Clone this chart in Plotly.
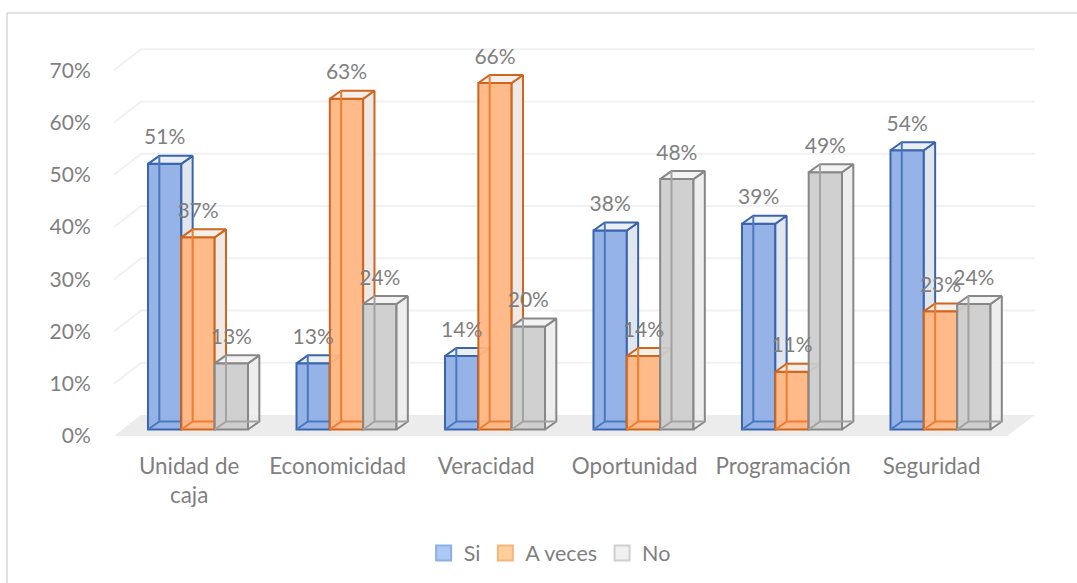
import plotly.graph_objects as go

categories = ["Unidad de<br>caja", "Economicidad", "Veracidad", "Oportunidad", "Programación", "Seguridad"]
si = [50.6, 12.6, 14, 37.9, 39.2, 53.2]
a_veces = [36.6, 63, 66, 14, 11, 22.5]
no = [12.6, 23.9, 19.6, 47.7, 49, 23.9]
si_labels = ["51%", "13%", "14%", "38%", "39%", "54%"]
a_veces_labels = ["37%", "63%", "66%", "14%", "11%", "23%"]
no_labels = ["13%", "24%", "20%", "48%", "49%", "24%"]
y_ticks = [0, 10, 20, 30, 40, 50, 60, 70]
y_tick_labels = ["0%", "10%", "20%", "30%", "40%", "50%", "60%", "70%"]

series = [
    dict(name="Si", v=si, t=si_labels, fill="rgba(143,174,230,0.94)", edge="#3A64AC", inner="#4A78BE",
         side="rgba(222,227,236,0.9)", top="rgba(232,236,244,0.9)", leg="#ABC8F7", legl="#8FAEE2"),
    dict(name="A veces", v=a_veces, t=a_veces_labels, fill="rgba(255,182,130,0.94)", edge="#CE661E", inner="#EE7E32",
         side="rgba(240,231,226,0.9)", top="rgba(244,237,232,0.9)", leg="#FFD09C", legl="#F9B47C"),
    dict(name="No", v=no, t=no_labels, fill="rgba(205,205,205,0.94)", edge="#878787", inner="#A3A3A3",
         side="rgba(236,236,236,0.9)", top="rgba(242,242,242,0.9)", leg="#F0F0F0", legl="#CFCFCF"),
]

W, H = 1077, 583
ML, MR, MT, MB = 114, 42, 18, 147
TEXT = "#7F7F7F"
FONT = "Lato"

X_RANGE = [-0.5657, 5.6364]
Y_WALL = [0, 80]
Y_BAR = [-1.238, 78.38]
BAR_W = 0.2245
DX, DY = 0.0762, 1.52
LABEL_UP = 4.7
WALL_UP = 4.0
X_BACK_L = -0.384
X_FRONT_R = 5.448
CAT_SHIFT = -0.06

fig = go.Figure()

fig.add_trace(go.Scatter(
    x=[X_RANGE[0], X_BACK_L, X_RANGE[1], X_FRONT_R, X_RANGE[0]],
    y=[0, WALL_UP, WALL_UP, 0, 0],
    mode="lines", fill="toself", fillcolor="#ECECEC", line=dict(color="#ECECEC", width=0),
    hoverinfo="skip", showlegend=False))
gx, gy = [], []
for t in y_ticks[1:]:
    gx += [X_RANGE[0], X_BACK_L, X_RANGE[1], None]
    gy += [t, t + WALL_UP, t + WALL_UP, None]
fig.add_trace(go.Scatter(x=gx, y=gy, mode="lines", line=dict(color="#F1F1F1", width=2),
                         hoverinfo="skip", showlegend=False))

offs = [-1.5 * BAR_W, -0.5 * BAR_W, 0.5 * BAR_W]
for s, sr in enumerate(series):
    xa = f"x{s + 2}"
    ya = f"y{s + 2}"
    fig.add_trace(go.Bar(
        x=list(range(len(categories))), y=sr["v"], width=BAR_W, offset=offs[s],
        marker=dict(color=sr["fill"], line=dict(color=sr["edge"], width=2)),
        xaxis=xa, yaxis=ya, showlegend=False, hoverinfo="skip"))
    ix, iy, sx, sy, tx, ty = [], [], [], [], [], []
    for i, v in enumerate(sr["v"]):
        L = i + offs[s]
        R = L + BAR_W
        ix += [L, L + DX, L + DX, None, L + DX, R + DX, None]
        iy += [0, DY, v + DY, None, DY, DY, None]
        sx += [R, R + DX, R + DX, R, R, None]
        sy += [0, DY, v + DY, v, 0, None]
        tx += [L, L + DX, R + DX, R, L, None]
        ty += [v, v + DY, v + DY, v, v, None]
    fig.add_trace(go.Scatter(x=sx, y=sy, mode="lines", fill="toself", fillcolor=sr["side"],
                             line=dict(color=sr["edge"], width=2), xaxis=xa, yaxis=ya,
                             hoverinfo="skip", showlegend=False))
    fig.add_trace(go.Scatter(x=tx, y=ty, mode="lines", fill="toself", fillcolor=sr["top"],
                             line=dict(color=sr["edge"], width=2), xaxis=xa, yaxis=ya,
                             hoverinfo="skip", showlegend=False))
    fig.add_trace(go.Scatter(x=ix, y=iy, mode="lines", line=dict(color=sr["inner"], width=2),
                             xaxis=xa, yaxis=ya, hoverinfo="skip", showlegend=False))

for s, sr in enumerate(series):
    fig.add_trace(go.Scatter(
        x=[i + offs[s] + BAR_W / 2 for i in range(len(categories))],
        y=[v + LABEL_UP for v in sr["v"]], text=sr["t"], mode="text",
        textposition="middle center", textfont=dict(family=FONT, size=21, color=TEXT),
        xaxis="x4", yaxis="y4", hoverinfo="skip", showlegend=False))

for sr in series:
    fig.add_trace(go.Scatter(
        x=[None], y=[None], mode="markers", name=sr["name"],
        marker=dict(symbol="square", size=15, color=sr["leg"], line=dict(color=sr["legl"], width=2))))

hidden = dict(visible=False, fixedrange=True)
layout = dict(
    width=W, height=H, autosize=False, margin=dict(l=ML, r=MR, t=MT, b=MB, pad=0, autoexpand=False),
    paper_bgcolor="white", plot_bgcolor="rgba(0,0,0,0)", font=dict(family=FONT, size=21, color=TEXT),
    xaxis=dict(range=X_RANGE, tickmode="array", tickvals=[i + CAT_SHIFT for i in range(len(categories))],
               ticktext=categories,
               showgrid=False, zeroline=False, showline=False, ticks="outside", ticklen=10, tickcolor="rgba(0,0,0,0)",
               tickfont=dict(family=FONT, size=22.4, color=TEXT), fixedrange=True),
    yaxis=dict(range=Y_WALL, tickmode="array", tickvals=y_ticks, ticktext=y_tick_labels,
               showgrid=False, zeroline=False, showline=False, ticks="outside", ticklen=18, tickcolor="rgba(0,0,0,0)",
               tickfont=dict(family=FONT, size=21, color=TEXT), fixedrange=True),
    legend=dict(orientation="h", x=0.473, xanchor="center", y=-0.28, yanchor="middle",
                font=dict(family=FONT, size=21.5, color=TEXT), itemsizing="trace", traceorder="normal",
                bgcolor="rgba(0,0,0,0)"),
    shapes=[
        dict(type="line", xref="paper", yref="paper",
             x0=(7 - ML) / (W - ML - MR), x1=(W - ML) / (W - ML - MR),
             y0=(H - MB - 13) / (H - MT - MB), y1=(H - MB - 13) / (H - MT - MB),
             line=dict(color="#D9D9D9", width=1.5)),
        dict(type="line", xref="paper", yref="paper",
             x0=(7 - ML) / (W - ML - MR), x1=(7 - ML) / (W - ML - MR),
             y0=(H - MB - 13) / (H - MT - MB), y1=(H - MB - H) / (H - MT - MB),
             line=dict(color="#D9D9D9", width=1.5)),
    ],
)
for n in (2, 3, 4):
    layout[f"xaxis{n}"] = dict(range=X_RANGE, overlaying="x", **hidden)
    layout[f"yaxis{n}"] = dict(range=Y_BAR, overlaying="y", **hidden)
fig.update_layout(**layout)

fig.write_html("out.html", config=dict(displayModeBar=False),
               post_script="document.body.style.margin='0';document.documentElement.style.overflow='hidden';")
